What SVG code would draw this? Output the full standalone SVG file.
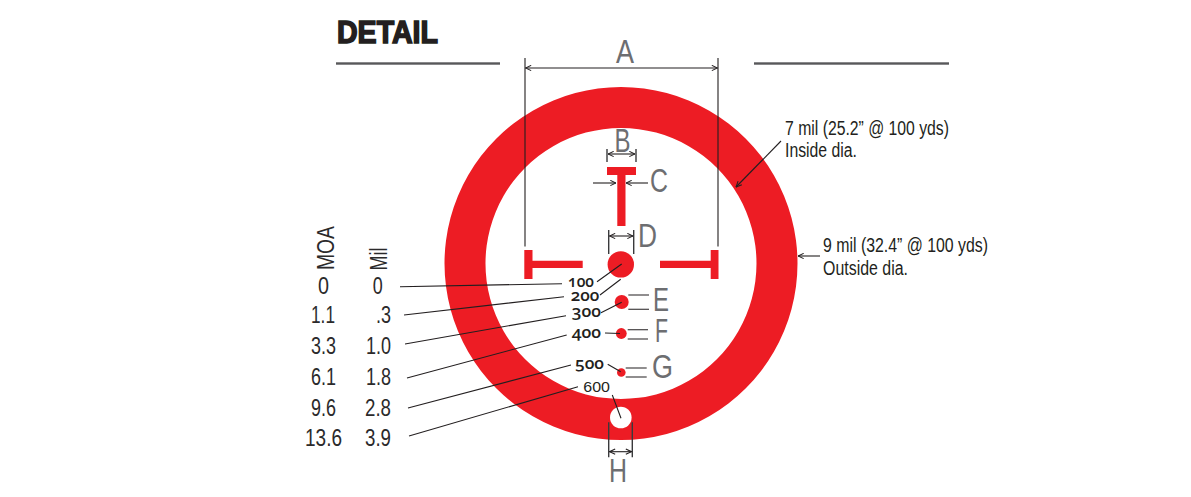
<svg xmlns="http://www.w3.org/2000/svg" width="1191" height="497" viewBox="0 0 1191 497">
<style>
text{font-family:"Liberation Sans",Arial,sans-serif}
.t{font-size:23px;fill:#2b2a2b}
.n{font-size:20px;fill:#231f20}
.l{font-size:33px;fill:#6d6e71}
.o{font-family:"Open Sans",sans-serif;font-size:16px;fill:#231f20;font-variant-numeric:oldstyle-nums;font-weight:600}
.k{stroke:#231f20;stroke-width:1.1;fill:none}
.k2{stroke:#3a3a3c;stroke-width:1.4;fill:none}
.a{marker-end:url(#ah)}
.ab{marker-start:url(#as);marker-end:url(#ah)}
.r{fill:#ed1c24}
</style>
<defs>
<marker id="ah" viewBox="0 0 8 8" refX="7.5" refY="4" markerWidth="7" markerHeight="7" markerUnits="userSpaceOnUse" orient="auto"><path d="M1 1L7.5 4L1 7" fill="none" stroke="#231f20" stroke-width="1.2"/></marker>
<marker id="as" viewBox="0 0 8 8" refX="0.5" refY="4" markerWidth="7" markerHeight="7" markerUnits="userSpaceOnUse" orient="auto"><path d="M7 1L0.5 4L7 7" fill="none" stroke="#231f20" stroke-width="1.2"/></marker>
</defs>
<g id="header">
<text x="337" y="43" font-size="32" font-weight="700" fill="#231f20" stroke="#231f20" stroke-width="1.6" textLength="101" lengthAdjust="spacingAndGlyphs">DETAIL</text>
<rect x="336" y="62.3" width="164" height="2.4" fill="#58585a"/>
<rect x="754" y="62.3" width="195" height="2.4" fill="#58585a"/>
</g>
<g id="reticle">
<path class="r" fill-rule="evenodd" d="M621 87a176.5 176.5 0 1 0 0.01 0ZM621 128a135.5 135.5 0 1 1 -0.01 0Z"/>
<circle cx="620.8" cy="417.5" r="10.8" fill="#fff"/>
<path class="r" d="M607 167H636V175H625.5V226H617.3V175H607Z"/>
<path class="r" d="M524.3 250H532.5V260.7H582.7V268H532.5V279H524.3Z"/>
<path class="r" d="M718.5 250H710.7V260.7H660V268H710.7V279H718.5Z"/>
<circle class="r" cx="620.8" cy="264.4" r="13.2"/>
<circle class="r" cx="621.7" cy="302" r="7"/>
<circle class="r" cx="621.3" cy="333.5" r="5.4"/>
<circle class="r" cx="621.3" cy="372.5" r="4.3"/>
</g>
<g id="connectors">
<path class="k" d="M525 58V246.500M718 58V246.500"/>
<path class="k ab" d="M525.500 68H717.500"/>
<path class="k2" d="M607 149V162M636 149V162M608.700 230V254M633.700 230V254M608.700 422.300V457.300M632.300 422.300V457.300"/>
<path class="k ab" d="M608 154H635"/>
<path class="k a" d="M593 183H616"/>
<path class="k a" d="M648 183H626"/>
<path class="k ab" d="M609.500 236H633"/>
<path class="k ab" d="M609.500 451.700H631.500"/>
<path class="k" d="M628.300 295H649M628.300 309.300H649M627.700 329.700H648M627.700 339H648M625.700 368H646.700M625.700 377H646.700"/>
<path class="k" d="M400 286.700L562 283.700M404 315L564 296.700M405 344L566 315.700M407 378L566.700 335M408 408L571 365M409 436L578 386.700"/>
<path class="k" d="M597 281.700L621.700 264M600 295L620.700 279.300M601 312.700L621.700 302.300M605 333L620 333.500M607.700 364.300L620.700 371.700M612.300 395L621 418.300"/>
<path class="k a" d="M781 141L736 187"/>
<path class="k a" d="M820 256H798"/>
</g>
<g id="letters">
<text class="l" x="616" y="63" textLength="18" lengthAdjust="spacingAndGlyphs">A</text>
<text class="l" x="614.500" y="152" textLength="16" lengthAdjust="spacingAndGlyphs">B</text>
<text class="l" x="650" y="192" textLength="18" lengthAdjust="spacingAndGlyphs">C</text>
<text class="l" x="638" y="246.500" textLength="19" lengthAdjust="spacingAndGlyphs">D</text>
<text class="l" x="653" y="311" textLength="16" lengthAdjust="spacingAndGlyphs">E</text>
<text class="l" x="655" y="341.500" textLength="13" lengthAdjust="spacingAndGlyphs">F</text>
<text class="l" x="652" y="377.500" textLength="21" lengthAdjust="spacingAndGlyphs">G</text>
<text class="l" x="609" y="482" textLength="18" lengthAdjust="spacingAndGlyphs">H</text>
</g>
<g id="ranges">
<text class="o" x="568" y="286.700" textLength="26" lengthAdjust="spacingAndGlyphs">100</text>
<text class="o" x="570.700" y="301" textLength="28.600" lengthAdjust="spacingAndGlyphs">200</text>
<text class="o" x="571.700" y="316.700" textLength="29.300" lengthAdjust="spacingAndGlyphs">300</text>
<text class="o" x="571.700" y="338" textLength="29.300" lengthAdjust="spacingAndGlyphs">400</text>
<text class="o" x="575" y="369" textLength="29" lengthAdjust="spacingAndGlyphs">500</text>
<text x="583.300" y="392" font-family="Open Sans" font-size="15" fill="#231f20" textLength="26.700" lengthAdjust="spacingAndGlyphs">600</text>
</g>
<g id="table">
<text transform="translate(333.500 270) rotate(-90)" font-size="24" fill="#2b2a2b" textLength="44" lengthAdjust="spacingAndGlyphs">MOA</text>
<text transform="translate(386.500 270.500) rotate(-90)" font-size="23" fill="#2b2a2b" textLength="23" lengthAdjust="spacingAndGlyphs">Mil</text>
<text class="t" x="318" y="294" textLength="11" lengthAdjust="spacingAndGlyphs">0</text>
<text class="t" x="311" y="323" textLength="24" lengthAdjust="spacingAndGlyphs">1.1</text>
<text class="t" x="311" y="354" textLength="25" lengthAdjust="spacingAndGlyphs">3.3</text>
<text class="t" x="311" y="385" textLength="25" lengthAdjust="spacingAndGlyphs">6.1</text>
<text class="t" x="311" y="416" textLength="25" lengthAdjust="spacingAndGlyphs">9.6</text>
<text class="t" x="305" y="446" textLength="37" lengthAdjust="spacingAndGlyphs">13.6</text>
<text class="t" x="372.700" y="294" textLength="10" lengthAdjust="spacingAndGlyphs">0</text>
<text class="t" x="376" y="323" textLength="15" lengthAdjust="spacingAndGlyphs">.3</text>
<text class="t" x="366" y="354" textLength="25" lengthAdjust="spacingAndGlyphs">1.0</text>
<text class="t" x="366" y="385" textLength="25" lengthAdjust="spacingAndGlyphs">1.8</text>
<text class="t" x="365" y="416" textLength="26" lengthAdjust="spacingAndGlyphs">2.8</text>
<text class="t" x="365" y="446" textLength="26" lengthAdjust="spacingAndGlyphs">3.9</text>
</g>
<g id="notes">
<text class="n" x="785" y="135" textLength="164" lengthAdjust="spacingAndGlyphs">7 mil (25.2” @ 100 yds)</text>
<text class="n" x="785" y="157.300" textLength="72" lengthAdjust="spacingAndGlyphs">Inside dia.</text>
<text class="n" x="823" y="252.300" textLength="165" lengthAdjust="spacingAndGlyphs">9 mil (32.4” @ 100 yds)</text>
<text class="n" x="823" y="275" textLength="85" lengthAdjust="spacingAndGlyphs">Outside dia.</text>
</g>
</svg>
